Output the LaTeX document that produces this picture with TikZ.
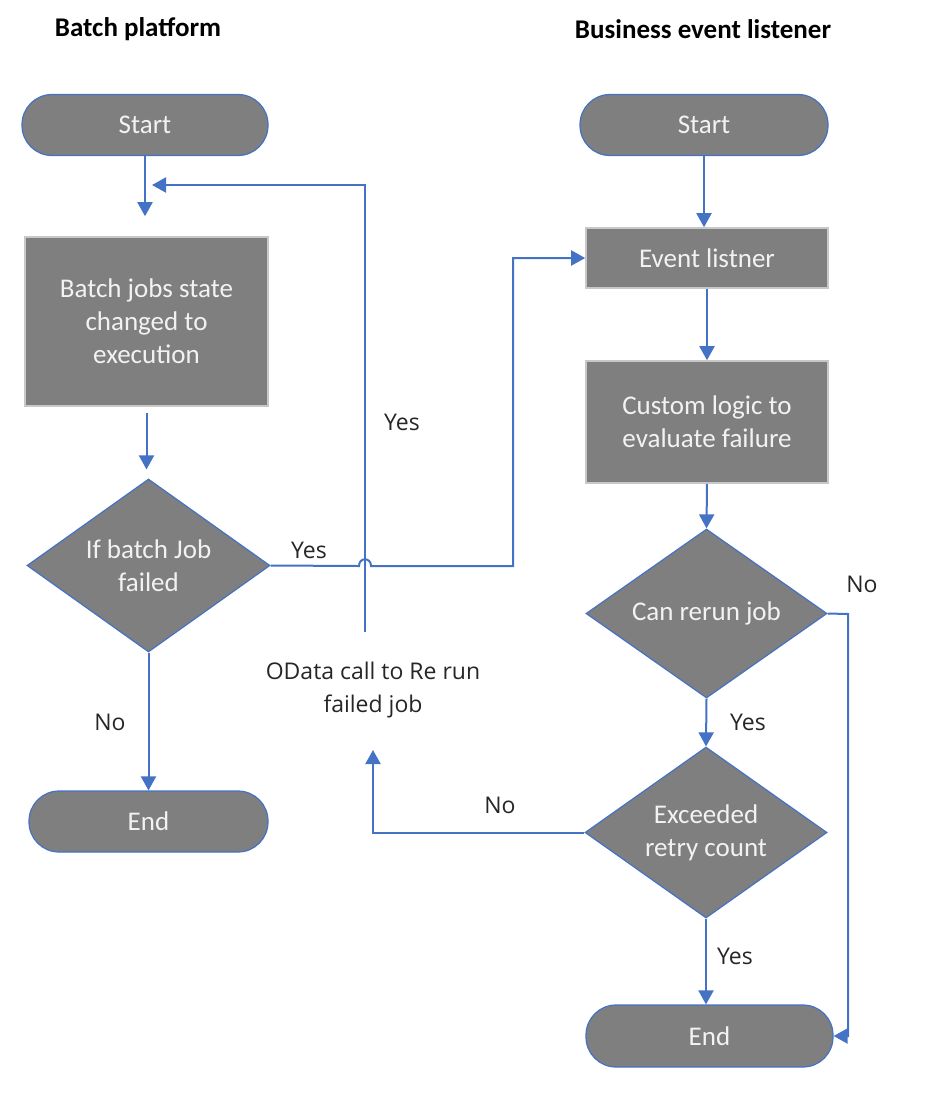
\documentclass[tikz,border=0pt]{standalone}
\usepackage{fontspec}
\setmainfont{Carlito}
\newfontfamily\labelfont{Open Sans}
\usetikzlibrary{shapes.geometric, arrows.meta}
\definecolor{huise}{RGB}{127,127,127}
\definecolor{lanse}{RGB}{68,114,196}
\definecolor{qianhui}{RGB}{200,200,200}
\definecolor{baizi}{RGB}{242,242,242}
\tikzset{ %流程图样式
	term/.style={rectangle, rounded corners=15pt, fill=huise, draw=lanse, line width=0.6pt,
		minimum height=30.5pt, text=baizi, font=\fontsize{13.5}{16.5}\selectfont},
	proc/.style={rectangle, fill=huise, draw=qianhui, line width=0.8pt, align=center,
		text=baizi, font=\fontsize{13.5}{16.5}\selectfont},
	dec/.style={diamond, aspect=1.4, inner sep=0pt, fill=huise, draw=lanse, line width=0.6pt,
		align=center, text=baizi, font=\fontsize{13.5}{16.5}\selectfont},
	lab/.style={font=\labelfont\fontsize{11.5}{16.5}\selectfont, text=black!85, align=center},
	title/.style={font=\bfseries\fontsize{13.5}{16.5}\selectfont},
	flow/.style={draw=lanse, line width=1pt, -{Triangle[width=7.5pt,length=7pt]}},
}

\begin{document}
\begin{tikzpicture}[x=0.5pt, y=-0.5pt]
		\useasboundingbox (0,0) rectangle (927,1093);
		% titles
		\node[title] (tLeft) at (138,29) {Batch platform};
		\node[title] (tRight) at (703,29) {Business event listener};
		% left column
		\node[term, minimum width=123pt] (sLeft) at (145,125) {Start};
		\node[proc, minimum width=121.5pt, minimum height=84.5pt] (bJob) at (146.5,321.5) {Batch jobs state\\changed to\\execution};
		\node[dec, minimum width=121.5pt, minimum height=86.5pt] (dFail) at (148.5,565.5) {If batch Job\\failed};
		\node[term, minimum width=119.5pt] (eLeft) at (148.5,821.5) {End};
		% right column
		\node[term, minimum width=124pt] (sRight) at (704,125) {Start};
		\node[proc, minimum width=121pt, minimum height=30pt] (evList) at (707,258) {Event listner};
		\node[proc, minimum width=121pt, minimum height=61pt] (cLogic) at (707,422) {Custom logic to\\evaluate failure};
		\node[dec, minimum width=120.5pt, minimum height=84.5pt] (dRerun) at (706.5,613.5) {Can rerun job};
		\node[dec, minimum width=121pt, minimum height=85.5pt] (dRetry) at (706,832.5) {Exceeded\\retry count};
		\node[term, minimum width=123.5pt, minimum height=31pt] (eRight) at (709.5,1036) {End};
		% labels
		\node[lab] (yesA) at (309,550) {Yes};
		\node[lab] (noA) at (110,722) {No};
		\node[lab] (yesB) at (402,422) {Yes};
		\node[lab] (odata) at (373,690) {OData call to Re run\\failed job};
		\node[lab] (noB) at (862,584) {No};
		\node[lab] (yesC) at (748,722) {Yes};
		\node[lab] (noC) at (500,805) {No};
		\node[lab] (yesD) at (735,956) {Yes};
		% bends
		\coordinate (loopS) at (365,632);
		\coordinate (loopE) at (152,185);
		\coordinate (hopA) at (359,566);
		\coordinate (hopB) at (371,566);
		\coordinate (yesBend) at (513,566);
		\coordinate (noBend) at (848,614);
		\coordinate (noEnd) at (373,750);
		% connectors
		\draw[flow, shorten >=10pt] (sLeft.south) -- (sLeft.south |- bJob.north);
		\draw[flow] (loopS) |- (loopE);
		\draw[flow, shorten <=3pt, shorten >=4.5pt] (bJob.south) -- (bJob.south |- dFail.north);
		\draw[flow] (dFail.south) -- (eLeft.north);
		\draw[flow] (dFail.east) -- (hopA) .. controls (359,557) and (371,557) .. (hopB) -- (yesBend) |- (evList.west);
		\draw[flow] (sRight.south) -- (sRight.south |- evList.north);
		\draw[flow] (evList.south) -- (cLogic.north);
		\draw[flow] (cLogic.south) -- (dRerun.north);
		\draw[flow] (dRerun.east) -- (noBend) |- (eRight.east);
		\draw[flow] (dRerun.south) -- (dRetry.north);
		\draw[flow] (dRetry.west) -| (noEnd);
		\draw[flow] (dRetry.south) -- (dRetry.south |- eRight.north);
	\end{tikzpicture}
\end{document}
